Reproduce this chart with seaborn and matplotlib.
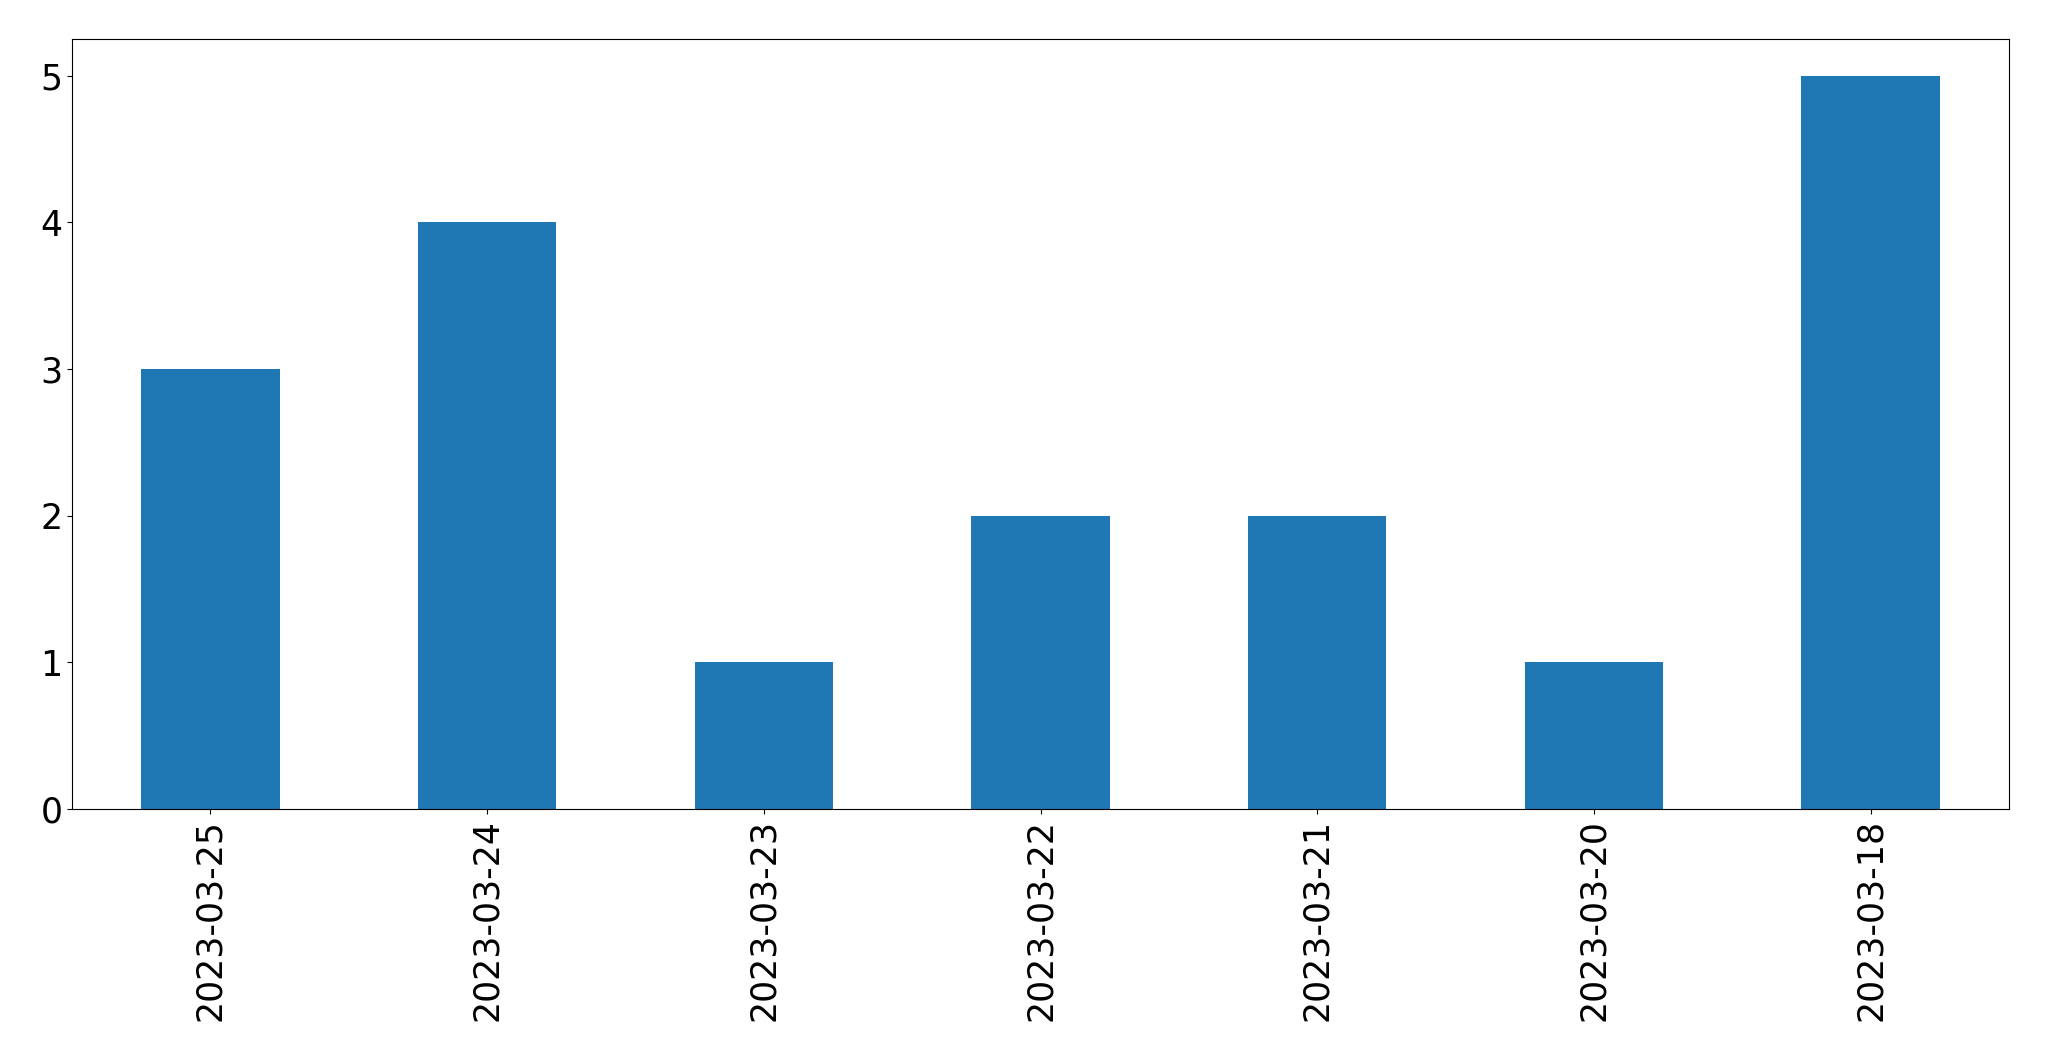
import matplotlib
matplotlib.use("Agg")
import matplotlib.pyplot as plt
import seaborn as sns
import pandas as pd

dates = ["2023-03-25", "2023-03-24", "2023-03-23", "2023-03-22",
         "2023-03-21", "2023-03-20", "2023-03-18"]
counts = [3, 4, 1, 2, 2, 1, 5]

df = pd.DataFrame({"date": dates, "count": counts})

fig = plt.figure(figsize=(20.49, 10.61), dpi=100)
ax = fig.add_axes([72 / 2049, 1 - 809 / 1061, (2009 - 72) / 2049, (809 - 39) / 1061])
sns.barplot(data=df, x="date", y="count", order=dates, color="#1f77b4",
            saturation=1, width=0.5, ax=ax, errorbar=None)
ax.set_xlim(-0.5, 6.5)
ax.set_ylim(0, 5.25)
ax.set_xlabel("")
ax.set_ylabel("")
ax.tick_params(axis="x", labelrotation=90, labelsize=25)
ax.tick_params(axis="y", labelsize=25)
for s in ax.spines.values():
    s.set_visible(True)
    s.set_color("black")
fig.savefig("out.png", dpi=100)
